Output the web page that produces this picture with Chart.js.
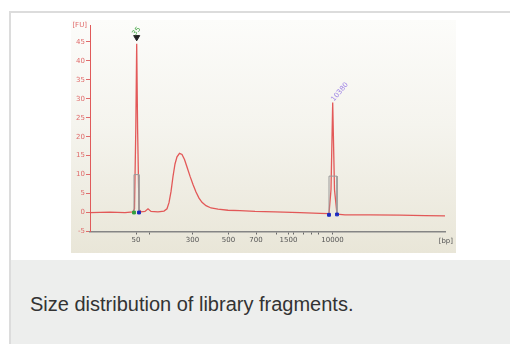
<!DOCTYPE html>
<html>
<head>
<meta charset="utf-8">
<script src="https://cdn.jsdelivr.net/npm/chart.js@4"></script>
<style>
  body { margin:0; width:510px; height:344px; overflow:hidden; background:#fff;
         font-family:"Liberation Sans", Arial, sans-serif; }
  .card { position:absolute; left:9px; top:11px; width:540px;
          border-left:2px solid #dcdcdc; border-top:2px solid #dcdcdc; }
  .figure { position:relative; height:247px; background:#fff; }
  .caption { position:relative; height:100px; background:#edeeed; }
  .caption span { position:absolute; left:19px; top:34px; font-size:20px; line-height:20px; color:#333; }
  #chartBox { position:absolute; left:60px; top:7px; width:385px; height:233px; }
  #chart { background:linear-gradient(#fcfcfa 0%, #f5f4ee 45%, #e9e6d8 100%); }
</style>
</head>
<body>
<div class="card">
  <div class="figure">
    <div id="chartBox"><canvas id="chart" width="385" height="233"></canvas></div>
  </div>
  <div class="caption"><span>Size distribution of library fragments.</span></div>
</div>
<script>
// electropherogram trace: migration time [s] vs fluorescence [FU]
const traceTime = [40, 44, 47, 48.6, 48.9, 49.16, 49.34, 49.52, 49.8, 50.2, 51, 51.6, 52.2, 53.6,
  54.8, 55.4, 55.8, 56.2, 56.6, 57, 57.4, 57.9, 58.4, 58.9, 59.4, 60, 60.6, 61.2, 61.8, 62.4,
  63.2, 64.2, 65.6, 67.6, 70, 73, 77, 82, 86, 87.8, 88.2, 88.54, 88.9, 89.4, 91, 96, 102, 107, 111];
const traceFU = [0, 0.1, 0, 0.2, 1, 22, 44.5, 22, 0.8, 0.2, 0.3, 1.0, 0.3, 0.2,
  0.4, 1.0, 2.6, 5.5, 9.5, 12.8, 14.7, 15.6, 15.3, 14, 12, 9.6, 7.4, 5.4, 3.8, 2.7,
  1.8, 1.2, 0.9, 0.6, 0.5, 0.3, 0.2, 0, -0.2, -0.3, 6, 29, 6, -0.4, -0.6, -0.6, -0.7, -0.8, -0.9];

// ladder size ticks (bp) and where they sit in migration time
const tickBp   = ['50', '100', '300', '500', '700', '1000', '1500', '2000', '3000', '4000', '7000', '10000'];
const tickTime = [49.2, 51.9, 60.5, 67.7, 73.2, 77.2, 79.7, 80.7, 82.7, 84.3, 85.7, 88.5];
const labeledBp = ['50', '300', '500', '700', '1500', '10000'];
const yTicks = [-5, 0, 5, 10, 15, 20, 25, 30, 35, 40, 45];

// marker peaks: lower (35 bp) and upper (10380 bp)
const markerNames = ['35', '10380'];
const markerTime = [49.34, 88.54];
const markerTop = [44.5, 29];
const markerColors = ['#4aa84a', '#9b7fe6'];

// peak integration bounds (gray boxes) and their start/end dots
const boundTime = [48.8, 48.8, 49.8, 49.8, 50, 87.8, 87.8, 89.4, 89.4];
const boundFU   = [0, 10, 10, 0, null, -0.4, 9.6, 9.6, -0.4];
const dotTime  = [48.8, 49.8, 87.8, 89.4];
const dotFU    = [0, 0, -0.6, -0.5];
const dotColor = ['#33a040', '#1c2bc0', '#1c2bc0', '#1c2bc0'];

const xy = (xs, ys) => xs.map((x, i) => ({ x: x, y: ys[i] }));

const peakText = {
  id: 'peakText',
  afterDatasetsDraw(chart) {
    const { ctx, scales: { x, y }, chartArea } = chart;
    ctx.save();
    ctx.font = '7px "DejaVu Sans"';
    markerNames.forEach((name, i) => {
      const px = x.getPixelForValue(markerTime[i]);
      const py = y.getPixelForValue(markerTop[i]) - (i === 0 ? 9 : 2);
      ctx.save();
      ctx.translate(px - (i === 0 ? 3 : 0), py);
      ctx.rotate(-50 * Math.PI / 180);
      ctx.fillStyle = markerColors[i];
      ctx.textAlign = 'left';
      ctx.textBaseline = 'middle';
      ctx.fillText(name, 0, 0);
      ctx.restore();
    });
    ctx.fillStyle = '#e06a6a';
    ctx.textAlign = 'right';
    ctx.textBaseline = 'middle';
    ctx.fillText('[FU]', chartArea.left - 3, chartArea.top);
    ctx.fillStyle = '#555';
    ctx.fillText('[bp]', chartArea.right + 8, chartArea.bottom + 10);
    ctx.restore();
  }
};

new Chart(document.getElementById('chart'), {
  type: 'line',
  data: {
    datasets: [
      { data: xy(traceTime, traceFU), borderColor: 'rgba(226,80,80,0.95)', borderWidth: 1.3,
        pointRadius: 0, tension: 0, order: 3 },
      { data: xy(boundTime, boundFU), borderColor: '#9a9a9a', borderWidth: 1,
        pointRadius: 0, spanGaps: false, order: 2 },
      { data: xy(dotTime, dotFU), showLine: false, pointStyle: 'rect', pointRadius: 2,
        pointBackgroundColor: dotColor, pointBorderColor: dotColor, order: 1 },
      { data: [{ x: markerTime[0], y: 46.2 }], showLine: false, pointStyle: 'triangle',
        pointRotation: 180, pointRadius: 3.5, pointBackgroundColor: '#222', pointBorderColor: '#222', order: 0 }
    ]
  },
  options: {
    responsive: false,
    animation: false,
    devicePixelRatio: 1,
    layout: { padding: { top: 4, right: 11, left: 0, bottom: 0 } },
    plugins: { legend: { display: false }, tooltip: { enabled: false } },
    scales: {
      x: {
        type: 'linear', min: 40, max: 111,
        afterBuildTicks: s => { s.ticks = tickTime.map(v => ({ value: v })); },
        afterFit: s => { s.height = 21.5; },
        ticks: {
          autoSkip: false, maxRotation: 0, padding: 1, color: '#555',
          font: { family: 'DejaVu Sans', size: 7 },
          callback: v => { const i = tickTime.indexOf(v); return labeledBp.includes(tickBp[i]) ? tickBp[i] : ''; }
        },
        grid: { drawOnChartArea: false, tickLength: 3, color: '#666' },
        border: { color: '#858585', width: 1.5 }
      },
      y: {
        min: -5, max: 49.4,
        afterBuildTicks: s => { s.ticks = yTicks.map(v => ({ value: v })); },
        afterFit: s => { s.width = 19; },
        ticks: { padding: 1, color: '#e06a6a', font: { family: 'DejaVu Sans', size: 7 } },
        grid: { drawOnChartArea: false, tickLength: 4, color: '#e06a6a' },
        border: { color: '#e05a5a', width: 1 }
      }
    }
  },
  plugins: [peakText]
});
</script>
</body>
</html>
